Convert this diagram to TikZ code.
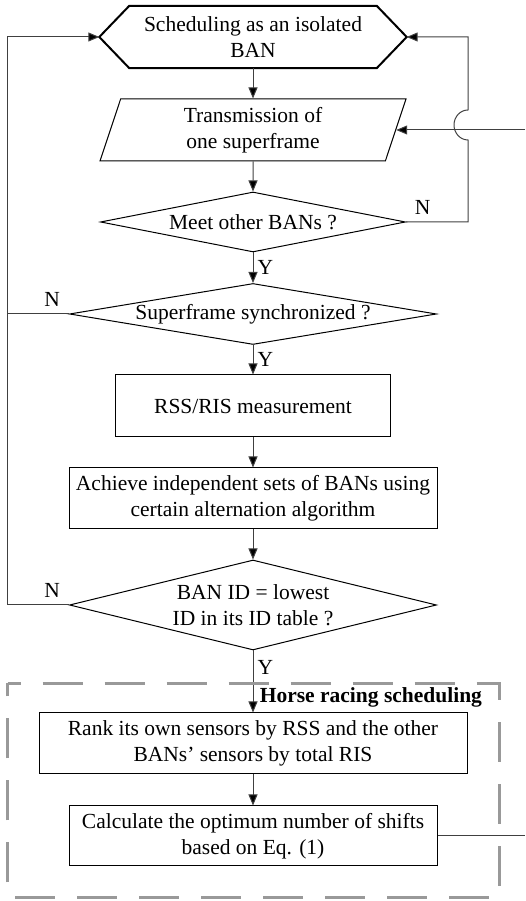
\documentclass[tikz,border=0pt]{standalone}
\usepackage{fontspec}
\setmainfont{Liberation Serif}
\usetikzlibrary{shapes.geometric,arrows.meta,positioning,calc}

\tikzset{
  proc/.style={draw, line width=1pt, align=center, inner sep=2pt},
  dec/.style={draw, diamond, line width=1pt, align=center, inner sep=0pt},
  io/.style={draw, trapezium, trapezium left angle=65.7, trapezium right angle=114.3,
    trapezium stretches body, line width=1pt, align=center, inner sep=0pt},
  flow/.style={draw=black!75, line width=1pt, -{Triangle[length=11pt,width=9pt,fill=black]}},
  line/.style={draw=black!75, line width=1pt},
  yes/.style={right, inner sep=4pt},
  no/.style={above, inner sep=7pt, pos=.27},
}

\begin{document}
\begin{tikzpicture}[x=1pt,y=1pt,node distance=92pt,on grid,font=\fontsize{21.5}{26}\selectfont]
\useasboundingbox (0,0) rectangle (525,901);

% main column
\node[minimum width=307pt, minimum height=62pt, align=center, inner sep=0pt] (start) at (253,864) {Scheduling as an isolated\\BAN};
\draw[line width=2pt] ([xshift=30pt]start.north west) -- ([xshift=-30pt]start.north east) -- (start.east)
  -- ([xshift=-30pt]start.south east) -- ([xshift=30pt]start.south west) -- (start.west) -- cycle;
\node[io, minimum width=306pt, minimum height=62pt] (trans) [below=93pt of start] {Transmission of\\one superframe};
\node[dec, minimum width=305pt, minimum height=60pt, aspect=5] (meet) [below=of trans] {Meet other BANs ?};
\node[dec, minimum width=367pt, minimum height=61pt, aspect=6] (sync) [below=of meet] {Superframe synchronized ?};
\node[proc, minimum width=275pt, minimum height=62pt] (rss) [below=of sync] {RSS/RIS measurement};
\node[proc, minimum width=368pt, minimum height=61pt] (indep) [below=92.5pt of rss] {Achieve independent sets of BANs using\\certain alternation algorithm};
\node[dec, minimum width=367pt, minimum height=90pt, aspect=4] (lowest) [below=106.5pt of indep] {BAN ID = lowest\\ID in its ID table ?};
\node[proc, minimum width=428pt, minimum height=61pt] (rank) [below=138.5pt of lowest] {Rank its own sensors by RSS and the other\\BANs' sensors by total RIS};
\node[proc, minimum width=368pt, minimum height=60pt] (shifts) [below=92.5pt of rank] {Calculate the optimum number of shifts\\based on Eq. (1)};

\path[flow]
  (start) edge (trans)
  (trans) edge (meet)
  (meet) edge node[yes] {Y} (sync)
  (sync) edge node[yes] {Y} (rss)
  (rss) edge (indep)
  (indep) edge (lowest)
  (lowest) edge node[yes, pos=.27] {Y} (rank)
  (rank) edge (shifts);

% N branches back to the start
\coordinate (rb) at ([xshift=62pt]meet.east);
\coordinate (jmp) at (rb |- trans.center);
\draw[flow] (meet.east) -- node[no] {N} (rb) -- ([yshift=-10pt]jmp)
  arc[start angle=-90, end angle=-270, x radius=14pt, y radius=15pt] |- (start.east);
\draw[flow] (lowest.west) -- node[no] {N} ++(-62pt,0) coordinate (lb) |- (start.west);
\draw[line] (sync.west) -- node[no] {N} (sync.west -| lb);

% loop from the last step, cut at the right border
\coordinate (rim) at (525,0);
\draw[line] (shifts.east) -- (shifts.east -| rim);
\draw[flow] (trans.right side -| rim) -- (trans.right side);

% horse racing frame
\coordinate (htl) at ([xshift=-31pt,yshift=29pt]rank.north west);
\coordinate (hbr) at ([xshift=62pt,yshift=-31pt]shifts.south east);
\draw[black!40, line width=2.5pt, dash pattern=on 40pt off 22pt, dash phase=27pt]
  (htl) -- (htl -| hbr) -- (hbr) -- (hbr -| htl) -- cycle;
\node[anchor=base east] (hrs) at ([xshift=18pt,yshift=10pt]rank.north east) {\bfseries Horse racing scheduling};
\end{tikzpicture}
\end{document}
